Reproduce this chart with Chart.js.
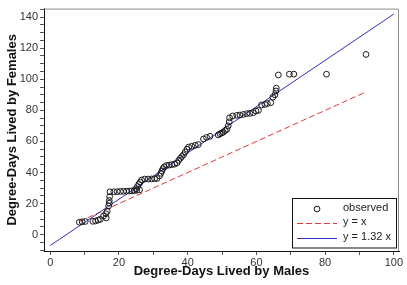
<!DOCTYPE html>
<html>
<head>
<meta charset="utf-8">
<script src="https://cdn.jsdelivr.net/npm/chart.js@4/dist/chart.umd.min.js"></script>
<style>
html,body{margin:0;padding:0;background:#fff;}
#wrap{position:relative;width:407px;height:285px;}
</style>
</head>
<body>
<div id="wrap"><canvas id="c" width="407" height="285"></canvas></div>
<script>
// ---- data ----
const maleDays = [8.5, 9.3, 10.2, 12.4, 13.2, 14.0, 14.6, 15.5, 16.2, 16.6, 16.3,
  17.0, 17.2, 17.2, 17.3, 17.4,
  18.5, 19.5, 20.4, 21.3, 22.2, 23.0, 23.8, 24.5, 25.2, 26.0,
  25.0, 25.4, 25.8, 26.2, 26.6,
  27.5, 28.5, 29.5, 30.4, 31.1,
  31.8, 32.2, 32.5, 32.8, 33.2, 33.8,
  34.6, 35.4, 36.2, 36.9, 37.4, 37.9, 38.3, 38.8, 39.3, 39.8,
  40.3, 41.2, 42.2, 43.1,
  44.6, 45.5, 46.5,
  48.9, 49.4, 49.9, 50.4, 50.9, 51.4, 51.8, 52.1, 52.2,
  53.1, 54.3, 55.2, 56.2, 57.2, 58.1, 59.1, 59.9, 60.6,
  61.5, 62.5, 63.2, 64.2,
  64.8, 65.4, 65.7, 65.8,
  66.4, 69.6, 70.9, 80.4, 91.9];
const femaleDays = [8.0, 8.3, 8.5, 8.6, 8.8, 9.4, 9.9, 12.0, 13.5, 15.0, 10.8,
  18.5, 20.3, 22.0, 24.5, 27.6,
  27.6, 27.7, 27.8, 27.9, 28.0, 28.1, 28.2, 28.4, 28.6, 28.8,
  29.6, 31.0, 32.5, 33.8, 35.2,
  35.8, 35.8, 35.9, 36.0, 36.2,
  37.8, 39.5, 41.0, 42.5, 43.6, 44.5,
  44.8, 45.1, 45.4, 46.2, 47.8, 49.2, 50.3, 51.4, 53.2, 55.0,
  56.4, 56.9, 57.5, 58.0,
  61.6, 62.6, 63.3,
  64.2, 64.9, 65.4, 66.0, 67.0, 67.8, 70.0, 72.6, 75.2,
  76.4, 76.8, 77.0, 77.4, 77.9, 78.1, 78.5, 79.6, 80.0,
  83.5, 83.8, 84.4, 85.0,
  88.5, 90.0, 92.5, 94.3,
  102.8, 103.3, 103.3, 103.3, 116.0];
const equalLineX = [8.5, 92];
const equalLineY = [8.5, 92];
const fitLineX = [0, 100];
const fitLineY = [-7, 142];
const xTickLabels = [0, 20, 40, 60, 80, 100];
const xMinorTicks = [0, 10, 20, 30, 40, 50, 60, 70, 80, 90, 100];
const yTickLabels = [0, 20, 40, 60, 80, 100, 120, 140];
const yMinorTicks = [-10, -5, 0, 5, 10, 15, 20, 25, 30, 35, 40, 45, 50, 55, 60, 65, 70, 75, 80, 85, 90, 95, 100, 105, 110, 115, 120, 125, 130, 135, 140, 145];
const legendLabels = ['observed', 'y = x', 'y = 1.32 x'];
const axisTitles = {x: 'Degree-Days Lived by Males', y: 'Degree-Days Lived by Females'};

const FONT = '"Liberation Sans", Arial, sans-serif';
const zip = (a, b) => a.map((v, i) => ({x: v, y: b[i]}));

const framePlugin = {
  id: 'frame',
  afterDatasetsDraw(chart) {
    const {ctx, chartArea: a} = chart;
    ctx.save();
    ctx.strokeStyle = '#8c8c8c';
    ctx.lineWidth = 1;
    ctx.beginPath();
    ctx.moveTo(a.left, a.top + 0.5);
    ctx.lineTo(a.right - 0.5, a.top + 0.5);
    ctx.lineTo(a.right - 0.5, a.bottom);
    ctx.stroke();
    ctx.restore();
  },
  afterDraw(chart) {
    const {ctx} = chart;
    const ds = chart.data.datasets;
    ctx.save();
    // legend box
    ctx.fillStyle = '#fff';
    ctx.fillRect(292.5, 198.5, 104, 49.5);
    ctx.strokeStyle = '#111';
    ctx.lineWidth = 1;
    ctx.strokeRect(292.5, 198.5, 104, 49.5);
    // marker
    ctx.beginPath();
    ctx.arc(317, 209, 2.9, 0, Math.PI * 2);
    ctx.strokeStyle = ds[0].borderColor;
    ctx.stroke();
    // dashed red
    ctx.beginPath();
    ctx.setLineDash(ds[1].borderDash);
    ctx.strokeStyle = ds[1].borderColor;
    ctx.moveTo(297, 223.5); ctx.lineTo(337, 223.5);
    ctx.stroke();
    ctx.setLineDash([]);
    ctx.beginPath();
    ctx.strokeStyle = ds[2].borderColor;
    ctx.moveTo(297, 238.5); ctx.lineTo(337, 238.5);
    ctx.stroke();
    ctx.fillStyle = '#222';
    ctx.font = '11px ' + FONT;
    ctx.textBaseline = 'middle';
    ctx.textAlign = 'left';
    ctx.fillText(ds[0].label, 343, 208);
    ctx.fillText(ds[1].label, 343, 222);
    ctx.fillText(ds[2].label, 343, 237);
    ctx.restore();
  }
};

new Chart(document.getElementById('c'), {
  type: 'scatter',
  data: {
    datasets: [
      {
        label: legendLabels[0],
        data: zip(maleDays, femaleDays),
        pointStyle: 'circle',
        pointRadius: 2.9,
        pointBorderWidth: 1,
        borderColor: '#1a1a1a',
        backgroundColor: 'rgba(255,255,255,0)',
        order: 0
      },
      {
        label: legendLabels[1],
        data: zip(equalLineX, equalLineY),
        showLine: true,
        pointRadius: 0,
        borderColor: '#e0393b',
        borderWidth: 1,
        borderDash: [6, 3],
        order: 2
      },
      {
        label: legendLabels[2],
        data: zip(fitLineX, fitLineY),
        showLine: true,
        pointRadius: 0,
        borderColor: '#3030c0',
        borderWidth: 1,
        order: 1
      }
    ]
  },
  options: {
    responsive: false,
    animation: false,
    devicePixelRatio: 1,
    layout: {padding: {left: 0, right: 8, top: 4, bottom: 0}},
    plugins: {legend: {display: false}, tooltip: {enabled: false}},
    scales: {
      x: {
        type: 'linear',
        min: -1.8,
        max: 101.5,
        afterBuildTicks(s) { s.ticks = xMinorTicks.map(v => ({value: v})); },
        afterFit(s) { s.height = 34; },
        ticks: {
          autoSkip: false,
          maxRotation: 0,
          padding: 1,
          color: '#333',
          font: {family: FONT, size: 11},
          callback: v => xTickLabels.includes(v) ? String(v) : ''
        },
        grid: {drawOnChartArea: false, drawTicks: true, tickLength: 4, color: '#555'},
        border: {display: true, color: '#111', width: 1},
        title: {display: true, text: axisTitles.x, color: '#111',
          font: {family: FONT, size: 13, weight: 'bold'}, padding: {top: 0, bottom: 6}}
      },
      y: {
        type: 'linear',
        min: -10.5,
        max: 145.5,
        afterBuildTicks(s) { s.ticks = yMinorTicks.map(v => ({value: v})); },
        afterFit(s) { s.width = 44; },
        ticks: {
          autoSkip: false,
          padding: 2,
          color: '#333',
          font: {family: FONT, size: 11},
          callback: v => yTickLabels.includes(v) ? String(v) : ''
        },
        grid: {drawOnChartArea: false, drawTicks: true, tickLength: 4, color: '#555'},
        border: {display: true, color: '#111', width: 1},
        title: {display: true, text: axisTitles.y, color: '#111',
          font: {family: FONT, size: 13, weight: 'bold'}, padding: {top: 5, bottom: 0}}
      }
    }
  },
  plugins: [framePlugin]
});
</script>
</body>
</html>
